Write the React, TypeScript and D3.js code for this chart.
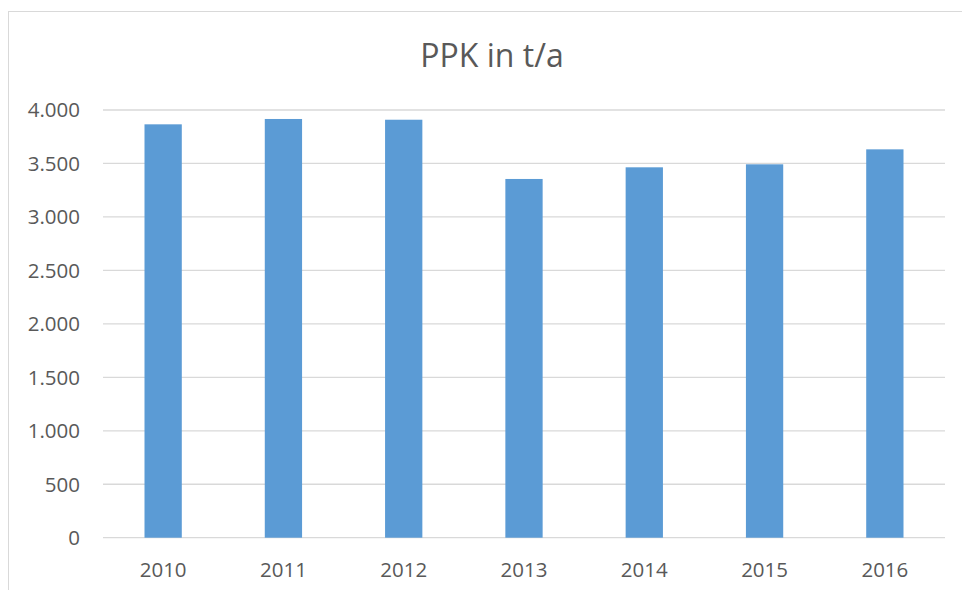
import React from "react";
import * as d3 from "d3";

const categories = ["2010", "2011", "2012", "2013", "2014", "2015", "2016"];
const values = [3866, 3916, 3909, 3355, 3464, 3492, 3632];
const yTicks = [0, 500, 1000, 1500, 2000, 2500, 3000, 3500, 4000];
const title = "PPK in t/a";

const W = 962;
const H = 590;
const plot = { left: 103, right: 945, top: 110, bottom: 537.7 };
const FONT = "'Open Sans', 'Noto Sans', sans-serif";
const fmt = (v: number) => d3.format(",")(v).replace(/,/g, ".");

export default function App() {
  const x = d3
    .scaleBand<string>()
    .domain(categories)
    .range([plot.left, plot.right])
    .paddingInner(0.69)
    .paddingOuter(0.345);
  const y = d3.scaleLinear().domain([0, 4000]).range([plot.bottom, plot.top]);

  return (
    <svg
      width={W}
      height={H}
      style={{ position: "absolute", left: 0, top: 0, background: "#fff" }}
    >
      <rect x={8.5} y={11.5} width={W + 10} height={H + 10} fill="#fff" stroke="#d9d9d9" strokeWidth={1} />
      <text x={492} y={67} textAnchor="middle" fontFamily={FONT} fontSize={32} fill="#595959">
        {title}
      </text>
      {yTicks.map((t) => (
        <g key={t}>
          <line
            x1={plot.left}
            x2={plot.right}
            y1={y(t)}
            y2={y(t)}
            stroke="#d9d9d9"
            strokeWidth={1.3}
          />
          <text
            x={80}
            y={y(t)}
            dy="0.36em"
            textAnchor="end"
            fontFamily={FONT}
            fontSize={20.5}
            fill="#595959"
          >
            {fmt(t)}
          </text>
        </g>
      ))}
      {categories.map((c, i) => (
        <rect
          key={c}
          x={x(c)}
          y={y(values[i])}
          width={x.bandwidth()}
          height={y(0) - y(values[i])}
          fill="#5B9BD5"
        />
      ))}
      {categories.map((c) => (
        <text
          key={c}
          x={(x(c) as number) + x.bandwidth() / 2}
          y={577}
          textAnchor="middle"
          fontFamily={FONT}
          fontSize={20.5}
          fill="#595959"
        >
          {c}
        </text>
      ))}
    </svg>
  );
}
